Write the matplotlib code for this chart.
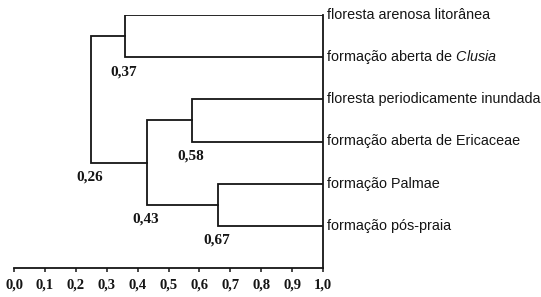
import matplotlib
matplotlib.use('Agg')
import matplotlib.pyplot as plt

# leaves, top to bottom
leaf_names = ['floresta arenosa litorânea',
              r'formação aberta de $\mathit{Clusia}$',
              'floresta periodicamente inundada',
              'formação aberta de Ericaceae',
              'formação Palmae',
              'formação pós-praia']

# merges: (left child, right child, height); children < 0 are leaves (-1 .. -6)
merges = [(-1, -2, 0.36),
          (-3, -4, 0.575),
          (-5, -6, 0.66),
          (1, 2, 0.43),
          (0, 3, 0.25)]
node_labels = ['0,37', '0,58', '0,67', '0,43', '0,26']

ticks = [0.0, 0.1, 0.2, 0.3, 0.4, 0.5, 0.6, 0.7, 0.8, 0.9, 1.0]
tick_labels = ['0,0', '0,1', '0,2', '0,3', '0,4', '0,5', '0,6', '0,7', '0,8', '0,9', '1,0']

plt.rcParams['mathtext.fontset'] = 'custom'
plt.rcParams['mathtext.it'] = 'Liberation Sans:italic'
plt.rcParams['mathtext.rm'] = 'Liberation Sans'

ink = '#151515'
lw = 1.3

fig = plt.figure(figsize=(5.41, 2.97), dpi=100)
ax = fig.add_axes([14 / 541, 29 / 297, 309 / 541, 253 / 297])

n = len(leaf_names)
leaf_y = {-(i + 1): n - i for i in range(n)}
pos = {}


def place(c):
    # x, y of a child (leaf or node)
    if c < 0:
        return 1.0, leaf_y[c]
    return pos[c]


for k, (a, b, h) in enumerate(merges):
    xa, ya = place(a)
    xb, yb = place(b)
    ax.plot([xa, h, h, xb], [ya, ya, yb, yb], color=ink, lw=lw, solid_joinstyle='miter')
    pos[k] = (h, (ya + yb) / 2.0)
    ax.annotate(node_labels[k], xy=(h, min(ya, yb)), xytext=(-1, -10.5),
                textcoords='offset points', ha='center', va='center',
                family='Liberation Serif', fontsize=11, weight='bold', color=ink)

for i, name in enumerate(leaf_names):
    ax.text(1.0, leaf_y[-(i + 1)], ' ' + name, ha='left', va='center',
            family='Liberation Sans', fontsize=10.4, color=ink, clip_on=False)

ax.set_xlim(0, 1)
ax.set_ylim(0, n)
ax.spines['top'].set_visible(False)
ax.spines['left'].set_visible(False)
ax.spines['right'].set_bounds(0, n)
for s in ('bottom', 'right'):
    ax.spines[s].set_color(ink)
    ax.spines[s].set_linewidth(lw)
ax.set_yticks([])
ax.set_xticks(ticks)
ax.set_xticklabels(tick_labels, family='Liberation Serif', fontsize=10.5, weight='bold', color=ink)
ax.tick_params(axis='x', direction='out', length=3, width=1.1, color=ink, pad=4.5)

fig.savefig('out.png', dpi=100)
